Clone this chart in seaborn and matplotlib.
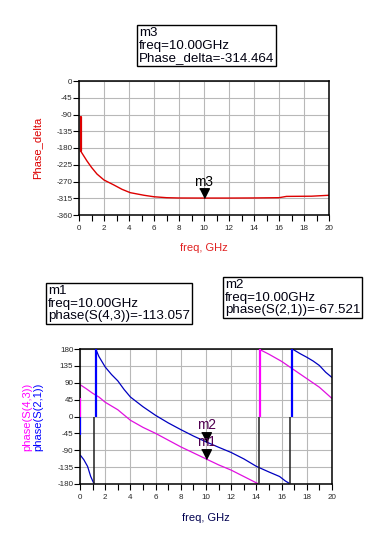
import numpy as np
import pandas as pd
import matplotlib
matplotlib.use("Agg")
import matplotlib.pyplot as plt
import seaborn as sns

sns.set_theme(style="ticks")
plt.rcParams["font.family"] = ["Liberation Sans", "DejaVu Sans"]
plt.rcParams["axes.unicode_minus"] = False

# ── data ────────────────────────────────────────────────────────────────────
PD_FREQ = [0.13, 0.13, 0.64, 1.0, 1.44, 2.0, 2.77, 3.44, 4.1, 5.2, 6.0, 7.0, 8.0,
           10.0, 12.0, 14.0, 16.0, 16.6, 18.6, 20.0]
PD_PHASE = [-96, -188, -215, -232, -250, -266, -279, -291, -300, -307, -311, -313.5,
            -314.3, -314.5, -314.5, -314.2, -313.5, -310, -309.5, -307]

S43_FREQ_1 = [0.0, 0.5, 1.0, 1.5, 2.0, 3.0, 4.0, 5.0, 6.0, 7.0, 8.0, 9.0, 10.0,
              11.0, 12.0, 13.0, 14.0, 14.2]
S43_PHASE_1 = [85, 74, 62, 52, 38, 18, -10, -29, -45, -63, -81, -97, -113.057,
               -129, -143, -160, -177, -180]
S43_FREQ_2 = [14.3, 15.0, 16.0, 17.0, 18.0, 19.0, 20.0]
S43_PHASE_2 = [178, 166, 147, 124, 101, 78, 48]

S21_FREQ_1 = [0.0, 0.3, 0.6, 0.85, 1.05, 1.15]
S21_PHASE_1 = [-102, -115, -133, -160, -175, -180]
S21_FREQ_2 = [1.25, 1.5, 2.0, 2.5, 3.0, 3.5, 4.0, 5.0, 6.0, 7.0, 8.0, 9.0, 10.0,
              11.0, 12.0, 13.0, 14.0, 15.0, 15.84, 16.3, 16.7]
S21_PHASE_2 = [180, 160, 132, 112, 95, 72, 52, 26, 3, -17, -35, -52, -67.521,
               -82, -96, -113, -133, -148, -160, -172, -180]
S21_FREQ_3 = [16.85, 17.5, 18.0, 18.5, 19.0, 19.5, 20.0]
S21_PHASE_3 = [180, 167, 158, 148, 136, 118, 104]

# phase-wrap jumps: (freq, from, to) – coloured part and black part
S43_WRAP_COLOR = [(0.0, 0, 50), (14.3, 0, 180)]
S43_WRAP_BLACK = [(0.0, 50, 85), (14.2, -180, 0)]
S21_WRAP_COLOR = [(0.0, 0, -48), (1.25, 0, 180), (16.85, 0, 180)]
S21_WRAP_BLACK = [(0.0, -48, -102), (1.15, -180, 0), (16.7, -180, 0)]

MARKER_FREQ = 10.0
M3_VAL = -314.464
M1_VAL = -113.057
M2_VAL = -67.521

RED = "#DD0000"
MAGENTA = "#E010E0"
BLUE = "#0000C0"
TICK_COLOR = "#282828"
TIP_DOWN = [(-1, 2), (1, 2), (0, 0)]


def branches(pairs):
    frames = []
    for i, (f, p) in enumerate(pairs):
        frames.append(pd.DataFrame({"freq": f, "phase": p, "branch": i}))
    return pd.concat(frames, ignore_index=True)


def style_axes(ax, ylim, yticks):
    ax.set_xlim(0, 20)
    ax.set_ylim(*ylim)
    ax.set_xticks(range(0, 21, 2))
    ax.set_xticks(range(1, 20, 2), minor=True)
    ax.set_yticks(yticks)
    ax.grid(True, which="major", color="#b8b8b8", lw=0.8)
    ax.set_axisbelow(True)
    for sp in ax.spines.values():
        sp.set_color("black")
        sp.set_linewidth(1.1)
        sp.set_visible(True)
    ax.tick_params(axis="x", which="both", direction="out", length=4, width=0.8,
                   colors="black", labelcolor=TICK_COLOR, labelsize=5.8, pad=3.5,
                   top=False)
    ax.tick_params(axis="y", which="major", direction="out", length=4, width=0.8,
                   colors="black", labelcolor=TICK_COLOR, labelsize=5.8, pad=0.8,
                   right=False)
    ax.set_xlabel("")
    ax.set_ylabel("")


def marker(ax, y, label, color):
    ax.plot([MARKER_FREQ], [y], ls="none", marker=TIP_DOWN, ms=14, color="black",
            clip_on=False, zorder=5)
    ax.annotate(label, (MARKER_FREQ, y), xytext=(0, 9), textcoords="offset points",
                ha="center", va="baseline", fontsize=9.8, color=color, zorder=6)


fig = plt.figure(figsize=(3.82, 5.34), dpi=100)

# ── top: Phase_delta ────────────────────────────────────────────────────────
ax1 = fig.add_axes([79 / 382, 1 - 215 / 534, 250 / 382, 134 / 534])
pd_df = pd.DataFrame({"freq": PD_FREQ, "phase": PD_PHASE})
sns.lineplot(data=pd_df, x="freq", y="phase", ax=ax1, color=RED, lw=1.0,
             estimator=None, sort=False)
ax1.plot(PD_FREQ[:2], PD_PHASE[:2], color=RED, lw=1.6)
style_axes(ax1, (-360, 0), range(-360, 1, 45))
marker(ax1, M3_VAL, "m3", "black")
ax1.set_xlabel("freq, GHz", fontsize=8, color="#E02020")
ax1.xaxis.set_label_coords(0.5, -0.21)
ax1.text(-0.168, 0.5, "Phase_delta", transform=ax1.transAxes, rotation=90,
         ha="center", va="center", fontsize=8, color=RED)

# ── bottom: phase(S(4,3)) and phase(S(2,1)) ─────────────────────────────────
ax2 = fig.add_axes([80 / 382, 1 - 484 / 534, 252 / 382, 135 / 534])
s43 = branches([(S43_FREQ_1, S43_PHASE_1), (S43_FREQ_2, S43_PHASE_2)])
s21 = branches([(S21_FREQ_1, S21_PHASE_1), (S21_FREQ_2, S21_PHASE_2),
                (S21_FREQ_3, S21_PHASE_3)])
sns.lineplot(data=s43, x="freq", y="phase", units="branch", estimator=None,
             sort=False, ax=ax2, color=MAGENTA, lw=0.9)
sns.lineplot(data=s21, x="freq", y="phase", units="branch", estimator=None,
             sort=False, ax=ax2, color=BLUE, lw=0.9)
for f, a, b in S43_WRAP_COLOR:
    ax2.vlines(f, a, b, color="#FF00FF", lw=1.6, zorder=3)
for f, a, b in S21_WRAP_COLOR:
    ax2.vlines(f, a, b, color="#0000FF", lw=1.6, zorder=3)
for f, a, b in S43_WRAP_BLACK + S21_WRAP_BLACK:
    ax2.vlines(f, a, b, color="#202020", lw=1.1, zorder=3)
style_axes(ax2, (-180, 180), range(-180, 181, 45))
marker(ax2, M2_VAL, "m2", "#500050")
marker(ax2, M1_VAL, "m1", "#500050")
ax2.set_xlabel("freq, GHz", fontsize=8, color="#000050")
ax2.xaxis.set_label_coords(0.5, -0.215)
ax2.text(-0.209, 0.5, "phase(S(4,3))", transform=ax2.transAxes, rotation=90,
         ha="center", va="center", fontsize=8, color="#FF00FF")
ax2.text(-0.165, 0.5, "phase(S(2,1))", transform=ax2.transAxes, rotation=90,
         ha="center", va="center", fontsize=8, color="#0000FF")

# ── marker readout boxes ────────────────────────────────────────────────────
box = dict(boxstyle="square,pad=0.15", fc="white", ec="black", lw=1.0)
fig.text(139 / 382, 1 - 27 / 534,
         f"m3\nfreq={MARKER_FREQ:.2f}GHz\nPhase_delta={M3_VAL:.3f}",
         ha="left", va="top", fontsize=9.6, linespacing=1.08, color="#000010", bbox=box)
fig.text(48 / 382, 1 - 285 / 534,
         f"m1\nfreq={MARKER_FREQ:.2f}GHz\nphase(S(4,3))={M1_VAL:.3f}",
         ha="left", va="top", fontsize=9.6, linespacing=1.08, color="#000010", bbox=box)
fig.text(225 / 382, 1 - 279 / 534,
         f"m2\nfreq={MARKER_FREQ:.2f}GHz\nphase(S(2,1))={M2_VAL:.3f}",
         ha="left", va="top", fontsize=9.6, linespacing=1.08, color="#000010", bbox=box)

fig.savefig("out.png", dpi=100)
plt.close(fig)
